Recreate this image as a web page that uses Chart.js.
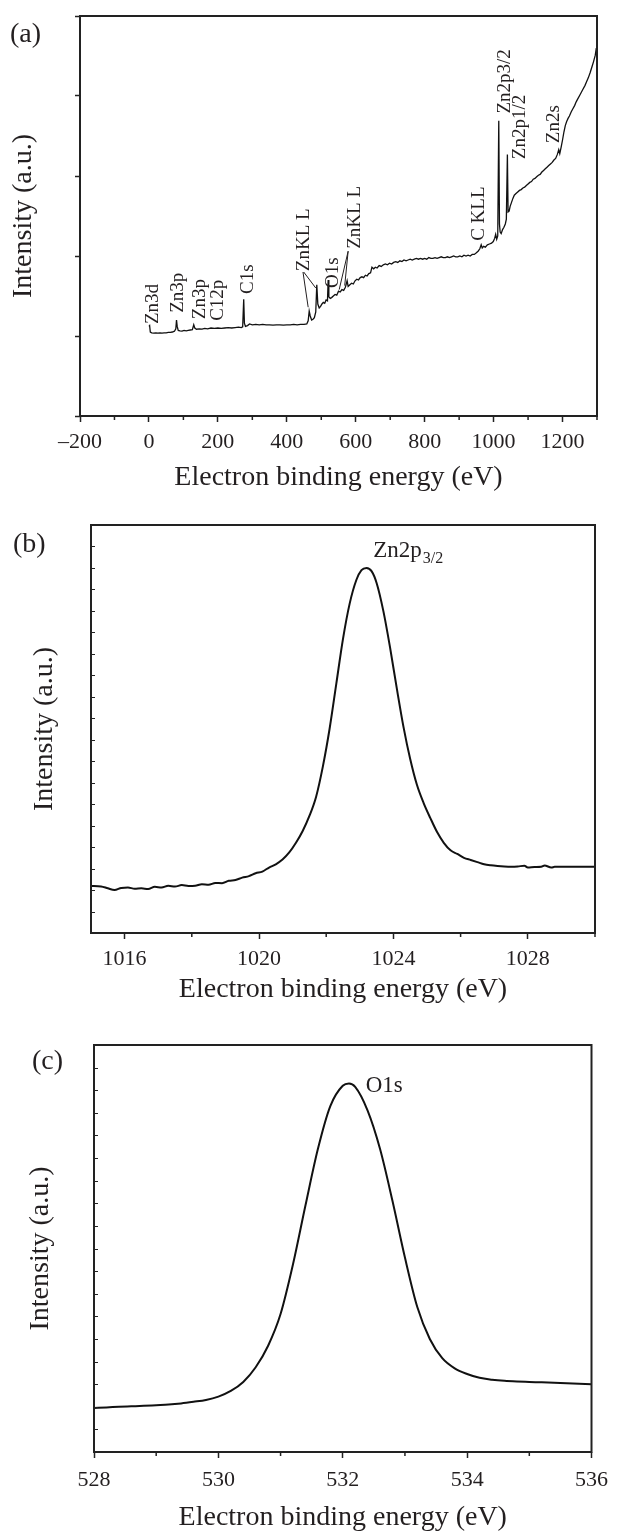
<!DOCTYPE html>
<html>
<head>
<meta charset="utf-8">
<script src="https://cdn.jsdelivr.net/npm/chart.js@4.4.1/dist/chart.umd.min.js"></script>
<style>
  html, body { margin: 0; padding: 0; background: #fff; }
  .panel { position: absolute; left: 0; width: 617px; }
</style>
</head>
<body>
<div class="panel" style="top:0;height:500px"><canvas id="chartA"></canvas></div>
<div class="panel" style="top:510px;height:510px"><canvas id="chartB"></canvas></div>
<div class="panel" style="top:1030px;height:503px"><canvas id="chartC"></canvas></div>
<script>
// (a) survey spectrum, intensity in arbitrary units (0..5 = axis height)
var surveyEnergy = [0, 2, 4, 8, 14, 20, 26, 32, 38, 44, 50, 56, 62, 68, 74, 78, 80, 82, 85, 90, 96, 102, 108, 114, 120, 126, 130, 133, 138, 146, 154, 162, 170, 180, 190, 200, 210, 220, 230, 240, 250, 260, 268, 272, 275, 277, 280, 286, 292, 300, 310, 320, 330, 340, 350, 360, 370, 380, 390, 400, 410, 420, 430, 440, 450, 458, 462, 465, 468, 472, 476, 480, 484, 487, 490, 494, 498, 502, 506, 510, 514, 518, 520, 522, 526, 530, 535, 540, 545, 550, 555, 560, 565, 570, 575, 578, 583, 588, 593, 598, 603, 608, 613, 618, 623, 628, 633, 638, 643, 647, 652, 657, 662, 668, 674, 680, 686, 692, 698, 704, 710, 716, 722, 728, 734, 740, 746, 752, 758, 764, 770, 776, 782, 788, 794, 800, 806, 812, 818, 824, 830, 836, 842, 848, 854, 860, 866, 872, 878, 884, 890, 896, 902, 908, 914, 920, 926, 932, 938, 944, 950, 955, 960, 964, 967, 971, 976, 982, 988, 994, 999, 1003, 1006, 1009, 1012, 1015, 1017, 1019, 1022, 1026, 1030, 1034, 1037, 1040, 1042, 1045, 1048, 1052, 1056, 1060, 1065, 1070, 1075, 1080, 1085, 1090, 1095, 1100, 1105, 1110, 1115, 1120, 1125, 1130, 1135, 1140, 1145, 1150, 1155, 1160, 1165, 1170, 1175, 1180, 1185, 1189, 1192, 1196, 1200, 1204, 1208, 1212, 1216, 1220, 1225, 1230, 1235, 1240, 1245, 1250, 1255, 1260, 1265, 1270, 1275, 1280, 1285, 1290, 1295, 1298];
var surveyIntensity = [1.12, 1.13, 1.05, 1.04, 1.035, 1.04, 1.035, 1.04, 1.035, 1.04, 1.04, 1.045, 1.045, 1.05, 1.06, 1.09, 1.20, 1.12, 1.07, 1.065, 1.06, 1.07, 1.065, 1.07, 1.075, 1.08, 1.14, 1.10, 1.085, 1.09, 1.085, 1.095, 1.09, 1.10, 1.095, 1.10, 1.095, 1.10, 1.105, 1.10, 1.105, 1.11, 1.105, 1.115, 1.46, 1.16, 1.12, 1.13, 1.15, 1.14, 1.145, 1.14, 1.145, 1.14, 1.14, 1.135, 1.14, 1.14, 1.135, 1.14, 1.14, 1.145, 1.14, 1.145, 1.145, 1.15, 1.19, 1.31, 1.25, 1.20, 1.21, 1.23, 1.30, 1.64, 1.40, 1.35, 1.37, 1.40, 1.42, 1.41, 1.45, 1.44, 1.70, 1.49, 1.47, 1.48, 1.50, 1.52, 1.51, 1.56, 1.55, 1.58, 1.57, 1.61, 1.69, 1.62, 1.64, 1.66, 1.65, 1.69, 1.71, 1.70, 1.73, 1.74, 1.73, 1.76, 1.75, 1.78, 1.79, 1.86, 1.84, 1.86, 1.85, 1.88, 1.87, 1.89, 1.90, 1.89, 1.91, 1.90, 1.92, 1.93, 1.92, 1.94, 1.93, 1.95, 1.94, 1.95, 1.96, 1.95, 1.96, 1.97, 1.96, 1.97, 1.96, 1.97, 1.96, 1.98, 1.97, 1.97, 1.98, 1.97, 1.98, 1.99, 1.98, 1.98, 1.99, 1.98, 1.99, 2.00, 1.99, 1.99, 2.00, 1.99, 2.01, 2.00, 2.01, 2.00, 2.02, 2.02, 2.04, 2.06, 2.09, 2.14, 2.10, 2.12, 2.11, 2.14, 2.15, 2.16, 2.18, 2.22, 2.27, 2.21, 2.25, 3.69, 2.40, 2.30, 2.28, 2.33, 2.36, 2.40, 2.46, 3.27, 2.55, 2.56, 2.62, 2.67, 2.72, 2.76, 2.78, 2.80, 2.82, 2.83, 2.85, 2.86, 2.88, 2.90, 2.92, 2.93, 2.96, 2.97, 2.99, 3.01, 3.02, 3.05, 3.07, 3.09, 3.11, 3.13, 3.15, 3.17, 3.20, 3.22, 3.27, 3.33, 3.28, 3.36, 3.45, 3.55, 3.63, 3.68, 3.72, 3.75, 3.80, 3.84, 3.88, 3.93, 3.97, 4.01, 4.05, 4.09, 4.13, 4.18, 4.23, 4.29, 4.36, 4.43, 4.51, 4.60];
var surveyMajorTicks = [-200, 0, 200, 400, 600, 800, 1000, 1200];
var surveyMinorTicks = [-100, 100, 300, 500, 700, 900, 1100, 1300];

var surveyLabels = ['Zn3d', 'Zn3p', 'Zn3p', 'C12p', 'C1s', 'ZnKL L', 'O1s', 'ZnKL L', 'C KLL', 'Zn2p3/2', 'Zn2p1/2', 'Zn2s'];
var surveyLabelEnergy = [12, 84, 148, 200, 288, 450, 535, 599, 959, 1032, 1078, 1174];
var surveyLabelIntensity = [1.15, 1.29, 1.21, 1.19, 1.525, 1.81, 1.60, 2.09, 2.19, 3.78, 3.21, 3.41];
// leader lines: [from energy, from intensity, to energy, to intensity]
var surveyLeaders = [[447, 1.80, 462, 1.36], [449, 1.80, 484, 1.60], [578, 2.06, 552, 1.58], [578, 2.06, 568, 1.63]];

// (b) Zn2p3/2 region
var znEnergy = [1015.0, 1015.3, 1015.5, 1015.7, 1015.9, 1016.1, 1016.3, 1016.5, 1016.7, 1016.9, 1017.1, 1017.3, 1017.5, 1017.7, 1017.9, 1018.1, 1018.3, 1018.5, 1018.7, 1018.9, 1019.1, 1019.3, 1019.5, 1019.7, 1019.9, 1020.1, 1020.3, 1020.5, 1020.7, 1020.9, 1021.1, 1021.3, 1021.5, 1021.7, 1021.9, 1022.1, 1022.3, 1022.5, 1022.7, 1022.9, 1023.05, 1023.2, 1023.35, 1023.5, 1023.7, 1023.9, 1024.1, 1024.3, 1024.5, 1024.7, 1024.9, 1025.1, 1025.3, 1025.5, 1025.7, 1025.9, 1026.1, 1026.3, 1026.5, 1026.7, 1026.9, 1027.1, 1027.3, 1027.5, 1027.7, 1027.9, 1028.0, 1028.2, 1028.4, 1028.5, 1028.7, 1028.8, 1030.0];
var znIntensity = [2.19, 2.17, 2.08, 2.00, 2.10, 2.12, 2.06, 2.08, 2.05, 2.15, 2.12, 2.20, 2.16, 2.23, 2.19, 2.20, 2.27, 2.25, 2.33, 2.32, 2.43, 2.47, 2.58, 2.65, 2.78, 2.86, 3.05, 3.20, 3.42, 3.75, 4.20, 4.75, 5.45, 6.35, 7.75, 9.50, 11.6, 13.7, 15.35, 16.45, 16.9, 17.0, 16.85, 16.3, 15.0, 13.3, 11.4, 9.6, 8.1, 6.9, 6.05, 5.35, 4.70, 4.20, 3.85, 3.68, 3.50, 3.40, 3.30, 3.20, 3.15, 3.12, 3.10, 3.09, 3.10, 3.13, 3.05, 3.07, 3.08, 3.14, 3.05, 3.08, 3.09];
var znMajorTicks = [1016, 1020, 1024, 1028];
var znMinorTicks = [1018, 1022, 1026, 1030];

// (c) O1s region
var oEnergy = [528.0, 528.2, 528.4, 528.6, 528.8, 529.0, 529.2, 529.4, 529.6, 529.8, 530.0, 530.2, 530.4, 530.6, 530.8, 531.0, 531.2, 531.4, 531.6, 531.8, 532.0, 532.1, 532.2, 532.4, 532.6, 532.8, 533.0, 533.2, 533.4, 533.6, 533.8, 534.0, 534.2, 534.4, 534.6, 534.8, 535.0, 535.2, 535.4, 535.6, 535.8, 536.0];
var oIntensity = [1.95, 1.97, 2.00, 2.02, 2.04, 2.07, 2.10, 2.15, 2.22, 2.30, 2.45, 2.70, 3.10, 3.75, 4.70, 6.10, 8.30, 10.9, 13.4, 15.3, 16.2, 16.3, 16.15, 15.1, 13.4, 11.1, 8.6, 6.4, 5.0, 4.15, 3.70, 3.45, 3.28, 3.20, 3.15, 3.12, 3.10, 3.08, 3.06, 3.04, 3.02, 3.00];
var oMajorTicks = [528, 530, 532, 534, 536];
var oMinorTicks = [529, 531, 533, 535];

var SERIF = "'Liberation Serif', 'Times New Roman', serif";
var INK = '#231f20';
Chart.defaults.font.family = SERIF;
Chart.defaults.color = INK;

function toPoints(xs, ys) {
    return xs.map(function (x, i) { return { x: x, y: ys[i] }; });
}

// box round the plot area, minor/inner ticks, panel letter
var framePlugin = {
    id: 'frame',
    afterDraw: function (chart, args, opts) {
        var ctx = chart.ctx, a = chart.chartArea;
        ctx.save();
        ctx.strokeStyle = '#222';
        ctx.lineWidth = 2;
        ctx.strokeRect(a.left, a.top, a.right - a.left, a.bottom - a.top);
        ctx.lineWidth = 1.5;
        ctx.beginPath();
        (opts.minorX || []).forEach(function (v) {
            var px = chart.scales.x.getPixelForValue(v);
            ctx.moveTo(px, a.bottom);
            ctx.lineTo(px, a.bottom + 4);
        });
        ctx.stroke();
        if (opts.innerStep) {
            var ys = chart.scales.y;
            ctx.lineWidth = 1;
            ctx.beginPath();
            for (var v = ys.min + opts.innerStep; v < ys.max; v += opts.innerStep) {
                var py = Math.round(ys.getPixelForValue(v)) + 0.5;
                ctx.moveTo(a.left, py);
                ctx.lineTo(a.left + 4, py);
            }
            ctx.stroke();
        }
        if (opts.panel) {
            ctx.fillStyle = INK;
            ctx.font = '28px ' + SERIF;
            ctx.textBaseline = 'middle';
            ctx.fillText(opts.panel, opts.panelX, opts.panelY);
        }
        ctx.restore();
    }
};

var peakLabelPlugin = {
    id: 'peakLabels',
    afterDatasetsDraw: function (chart, args, opts) {
        if (!opts.names) return;
        var ctx = chart.ctx, xs = chart.scales.x, ys = chart.scales.y;
        ctx.save();
        ctx.fillStyle = INK;
        ctx.strokeStyle = INK;
        opts.names.forEach(function (name, i) {
            var px = xs.getPixelForValue(opts.xs[i]);
            var py = ys.getPixelForValue(opts.ys[i]);
            ctx.save();
            ctx.translate(px, py);
            ctx.textAlign = 'left';
            if (opts.rotate) {
                ctx.rotate(-Math.PI / 2);
                ctx.textBaseline = 'middle';
            } else {
                ctx.textBaseline = 'alphabetic';
            }
            ctx.font = opts.size + 'px ' + SERIF;
            ctx.fillText(name, 0, 0);
            if (opts.subs && opts.subs[i]) {
                var w = ctx.measureText(name).width;
                ctx.font = opts.subSize + 'px ' + SERIF;
                ctx.fillText(opts.subs[i], w + 1, opts.subSize * 0.35);
            }
            ctx.restore();
        });
        if (opts.leaders) {
            ctx.lineWidth = 1;
            ctx.beginPath();
            opts.leaders.forEach(function (l) {
                ctx.moveTo(xs.getPixelForValue(l[0]), ys.getPixelForValue(l[1]));
                ctx.lineTo(xs.getPixelForValue(l[2]), ys.getPixelForValue(l[3]));
            });
            ctx.stroke();
        }
        ctx.restore();
    }
};

Chart.register(framePlugin, peakLabelPlugin);

function buildChart(id, cfg) {
    return new Chart(document.getElementById(id).getContext('2d'), {
        type: 'line',
        data: {
            datasets: [{
                data: cfg.points,
                borderColor: '#111',
                borderWidth: cfg.lineWidth,
                pointRadius: 0,
                cubicInterpolationMode: cfg.smooth ? 'monotone' : 'default',
                tension: 0,
                fill: false
            }]
        },
        options: {
            responsive: true,
            maintainAspectRatio: false,
            animation: false,
            events: [],
            layout: { padding: cfg.padding },
            plugins: {
                legend: { display: false },
                tooltip: { enabled: false },
                frame: cfg.frame,
                peakLabels: cfg.labels || {}
            },
            scales: {
                x: {
                    type: 'linear',
                    min: cfg.xMin,
                    max: cfg.xMax,
                    afterBuildTicks: function (s) {
                        s.ticks = cfg.xMajor.map(function (v) { return { value: v }; });
                    },
                    afterFit: function (s) { s.height = cfg.xHeight; },
                    border: { display: false },
                    grid: { drawOnChartArea: false, tickLength: 6, tickColor: '#222', tickWidth: 1.5 },
                    ticks: {
                        autoSkip: false,
                        maxRotation: 0,
                        padding: cfg.tickPad,
                        font: { size: 22 },
                        color: INK,
                        callback: function (v) { return v < 0 ? '\u2013' + Math.abs(v) : String(v); }
                    },
                    title: {
                        display: true,
                        text: 'Electron binding energy (eV)',
                        font: { size: 28, lineHeight: 1 },
                        color: INK,
                        padding: { top: 0, bottom: cfg.xTitlePad }
                    }
                },
                y: {
                    type: 'linear',
                    min: 0,
                    max: cfg.yMax,
                    afterFit: function (s) { s.width = cfg.yWidth; },
                    border: { display: false },
                    grid: { drawOnChartArea: false, drawTicks: cfg.yOuterTicks, tickLength: 5, tickColor: '#222', tickWidth: 1.5 },
                    ticks: { stepSize: 1, display: false },
                    title: {
                        display: true,
                        text: 'Intensity (a.u.)',
                        font: { size: 28, lineHeight: 1 },
                        color: INK,
                        padding: { top: cfg.yTitlePad, bottom: 0 }
                    }
                }
            }
        }
    });
}

buildChart('chartA', {
    points: toPoints(surveyEnergy, surveyIntensity),
    lineWidth: 1.3, smooth: false,
    padding: { top: 16, right: 20, left: 0, bottom: 4 },
    xMin: -200, xMax: 1300, xMajor: surveyMajorTicks, xHeight: 80, tickPad: 7, xTitlePad: 4,
    yMax: 5, yWidth: 80, yOuterTicks: true, yTitlePad: 10,
    frame: { minorX: surveyMinorTicks, panel: '(a)', panelX: 10, panelY: 35 },
    labels: {
        names: surveyLabels, xs: surveyLabelEnergy, ys: surveyLabelIntensity,
        rotate: true, size: 19, leaders: surveyLeaders
    }
});

buildChart('chartB', {
    points: toPoints(znEnergy, znIntensity),
    lineWidth: 2, smooth: true,
    padding: { top: 15, right: 22, left: 0, bottom: 7 },
    xMin: 1015, xMax: 1030, xMajor: znMajorTicks, xHeight: 80, tickPad: 7, xTitlePad: 9,
    yMax: 19, yWidth: 91, yOuterTicks: false, yTitlePad: 31,
    frame: { minorX: znMinorTicks, innerStep: 1, panel: '(b)', panelX: 13, panelY: 35 },
    labels: {
        names: ['Zn2p'], subs: ['3/2'], xs: [1023.4], ys: [17.49],
        rotate: false, size: 23, subSize: 16
    }
});

buildChart('chartC', {
    points: toPoints(oEnergy, oIntensity),
    lineWidth: 2, smooth: true,
    padding: { top: 15, right: 17, left: 0, bottom: 1 },
    xMin: 528, xMax: 536, xMajor: oMajorTicks, xHeight: 80, tickPad: 9, xTitlePad: 0,
    yMax: 18, yWidth: 94, yOuterTicks: false, yTitlePad: 27,
    frame: { minorX: oMinorTicks, innerStep: 1, panel: '(c)', panelX: 32, panelY: 32 },
    labels: {
        names: ['O1s'], xs: [532.37], ys: [15.93],
        rotate: false, size: 23
    }
});
</script>
</body>
</html>
